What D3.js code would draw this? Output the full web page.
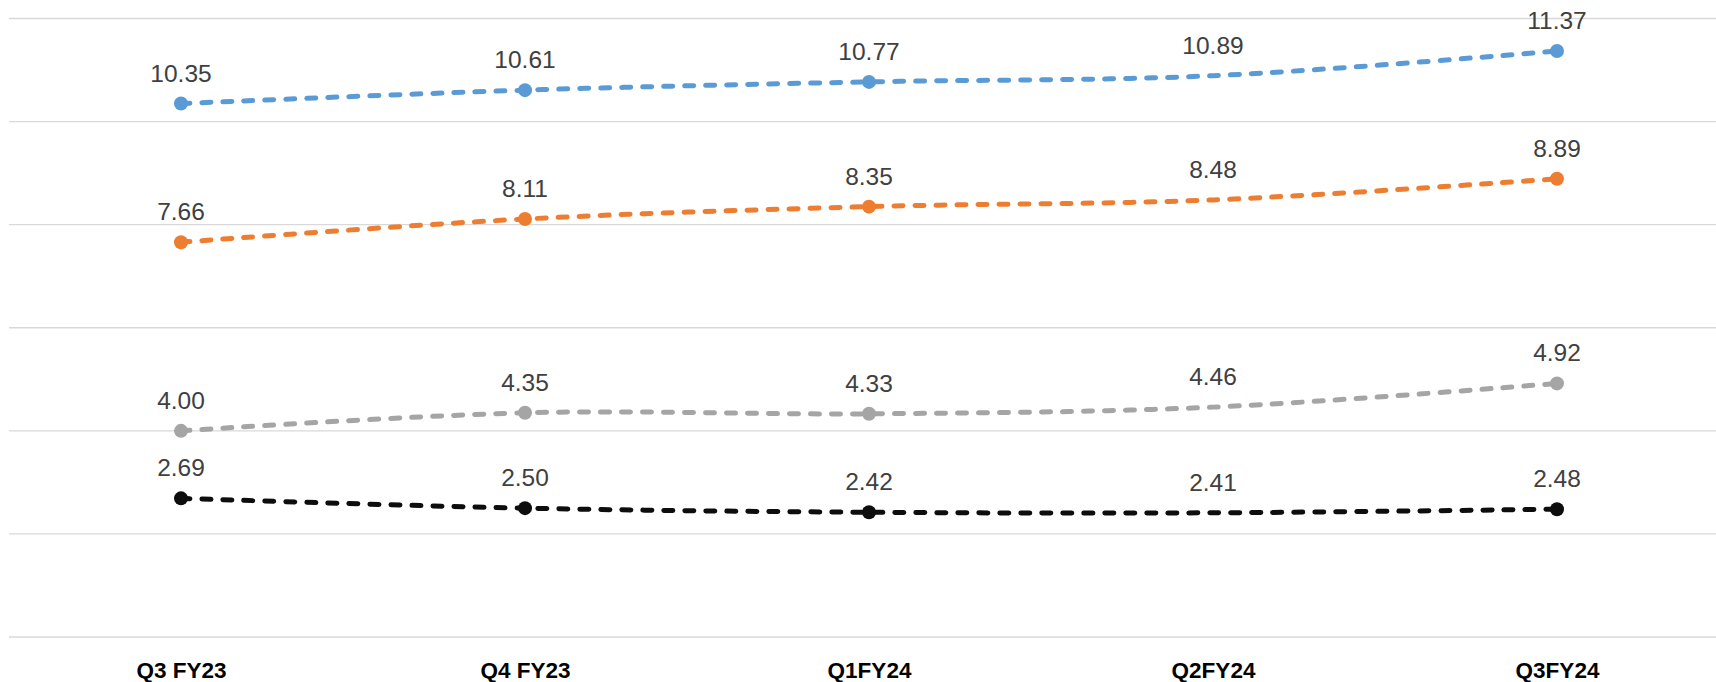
<!DOCTYPE html>
<html>
<head>
<meta charset="utf-8">
<script src="https://cdn.jsdelivr.net/npm/d3@7"></script>
<style>
  html, body { margin: 0; padding: 0; background: #fff; }
  svg { display: block; }
</style>
</head>
<body>
<svg id="chart" width="1716" height="682"></svg>
<script>
const categories = ["Q3 FY23", "Q4 FY23", "Q1FY24", "Q2FY24", "Q3FY24"];
const seriesBlue   = [10.35, 10.61, 10.77, 10.89, 11.37];
const seriesOrange = [7.66, 8.11, 8.35, 8.48, 8.89];
const seriesGrey   = [4.00, 4.35, 4.33, 4.46, 4.92];
const seriesBlack  = [2.69, 2.50, 2.42, 2.41, 2.48];
const markerShown  = [true, true, true, false, true];
const yTicks = [0, 2, 4, 6, 8, 10, 12];

const series = [
  { values: seriesBlue,   color: "#5B9BD5" },
  { values: seriesOrange, color: "#ED7D31" },
  { values: seriesGrey,   color: "#A5A5A5" },
  { values: seriesBlack,  color: "#0D0D0D" }
];

const W = 1716, H = 682;
const svg = d3.select("#chart");

const x = d3.scalePoint().domain(categories).range([9, 1729]).padding(0.5);
const y = d3.scaleLinear().domain([0, 12]).range([637, 18.5]);

// gridlines
svg.append("g").selectAll("line").data(yTicks).join("line")
  .attr("x1", 9).attr("x2", W)
  .attr("y1", d => y(d)).attr("y2", d => y(d))
  .attr("stroke", "#d9d9d9").attr("stroke-width", 1.3);

// x axis labels
const xAxis = d3.axisBottom(x).tickSize(0).tickPadding(0);
const gx = svg.append("g").attr("transform", `translate(0,${y(0)})`).call(xAxis);
gx.select(".domain").remove();
gx.selectAll("text")
  .attr("dy", null).attr("y", 41)
  .attr("font-family", "'Liberation Sans', Arial, sans-serif")
  .attr("font-size", 22.5).attr("font-weight", "bold").attr("fill", "#000");

const line = d3.line()
  .x((d, i) => x(categories[i]))
  .y(d => y(d))
  .curve(d3.curveCatmullRom.alpha(0.5));

series.forEach(s => {
  const g = svg.append("g");
  g.append("path")
    .attr("d", line(s.values))
    .attr("fill", "none")
    .attr("stroke", s.color)
    .attr("stroke-width", 5)
    .attr("stroke-linecap", "round")
    .attr("stroke-dasharray", "9,12");
  g.selectAll("circle").data(s.values.map((v, i) => ({ v, i })).filter(d => markerShown[d.i]))
    .join("circle")
    .attr("cx", d => x(categories[d.i]))
    .attr("cy", d => y(d.v))
    .attr("r", 7)
    .attr("fill", s.color);
  g.selectAll("text").data(s.values.map((v, i) => ({ v, i })))
    .join("text")
    .attr("x", d => x(categories[d.i]))
    .attr("y", d => y(d.v) - 22)
    .attr("text-anchor", "middle")
    .attr("font-family", "'Liberation Sans', Arial, sans-serif")
    .attr("font-size", 24.5)
    .attr("fill", "#404040")
    .text(d => d.v.toFixed(2));
});
</script>
</body>
</html>
